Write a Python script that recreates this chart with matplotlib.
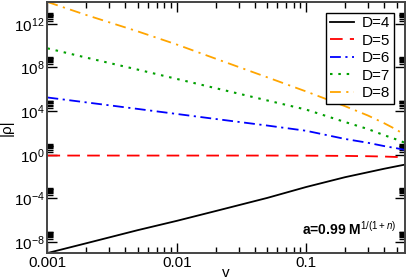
import numpy as np
import matplotlib
matplotlib.use("Agg")
import matplotlib.pyplot as plt
from matplotlib.ticker import LogLocator, FixedLocator, LogFormatterSciNotation, NullFormatter

plt.rcParams['font.family'] = ['Liberation Sans', 'DejaVu Sans']
plt.rcParams['mathtext.fontset'] = 'custom'
plt.rcParams['mathtext.rm'] = 'Liberation Sans'
plt.rcParams['mathtext.it'] = 'Liberation Sans:italic'
plt.rcParams['mathtext.bf'] = 'Liberation Sans:bold'

# velocities where the curves were read
v = [0.001, 0.002, 0.005, 0.01, 0.02, 0.05, 0.1, 0.2, 0.3, 0.4, 0.5, 0.58]

# log10 |rho|
log_d4 = [-9.0, -8.1, -6.9, -6.05, -5.15, -3.95, -2.95, -2.05, -1.6, -1.28, -1.05, -0.9]
log_d5 = [-0.07, -0.07, -0.07, -0.07, -0.07, -0.07, -0.08, -0.1, -0.13, -0.16, -0.2, -0.24]
log_d6 = [5.25, 4.8, 4.2, 3.74, 3.28, 2.68, 2.2, 1.45, 1.1, 0.8, 0.6, 0.45]
log_d7 = [9.75, 8.9, 7.8, 6.95, 6.1, 4.98, 4.14, 3.0, 2.36, 1.8, 1.4, 1.1]
log_d8 = [14.0, 12.8, 11.3, 10.1, 8.8, 7.1, 5.8, 4.45, 3.6, 2.9, 2.3, 1.8]

labels = ["D=4", "D=5", "D=6", "D=7", "D=8"]

fig = plt.figure(figsize=(4.09, 2.79), dpi=100)
ax = fig.add_axes([0.116, 0.093, 0.874, 0.9])

v = np.array(v)
ax.plot(v, 10**np.array(log_d4), color='black', lw=1.3, label=labels[0])
ax.plot(v, 10**np.array(log_d5), color='#ff0000', lw=1.3, dashes=(7, 4), label=labels[1])
ax.plot(v, 10**np.array(log_d6), color='#0000ff', lw=1.3, dashes=(6, 2.5, 1.2, 2.5), label=labels[2])
ax.plot(v, 10**np.array(log_d7), color='#00a000', lw=1.5, dashes=(1.2, 2.8), label=labels[3])
ax.plot(v, 10**np.array(log_d8), color='#ffa500', lw=1.3, dashes=(6, 3, 1.2, 3), label=labels[4])

ax.set_xscale('log')
ax.set_yscale('log')
ax.set_xlim(0.001, 0.58)
ax.set_ylim(1e-9, 1e14)

ymaj = [1e-8, 1e-4, 1e0, 1e4, 1e8, 1e12]
ax.yaxis.set_major_locator(FixedLocator(ymaj))
ax.yaxis.set_minor_locator(FixedLocator([m * y for y in ymaj for m in range(2, 10)]))
ax.yaxis.set_major_formatter(LogFormatterSciNotation())
ax.yaxis.set_minor_formatter(NullFormatter())
ax.xaxis.set_major_locator(FixedLocator([0.001, 0.01, 0.1]))
ax.xaxis.set_minor_locator(LogLocator(base=10, subs=np.arange(2, 10)))
ax.xaxis.set_minor_formatter(NullFormatter())
ax.set_xticklabels(["0.001", "0.01", "0.1"])

ax.tick_params(which='both', direction='in', top=True, right=True, labelsize=11, color='black')
ax.tick_params(which='major', length=7, width=1, pad=2)
ax.tick_params(which='minor', length=4, width=1)
for s in ax.spines.values():
    s.set_linewidth(1.4)
    s.set_color('#444444')

ax.set_xlabel("v", fontsize=11, labelpad=-3)
ax.set_ylabel("|ρ|", fontsize=11)
ax.yaxis.set_label_coords(-0.095, 0.5)

leg = ax.legend(loc='upper right', fontsize=11, frameon=True, fancybox=False,
                edgecolor='black', framealpha=1, handlelength=1.6, handletextpad=0.5,
                borderpad=0.25, labelspacing=0.22, borderaxespad=0.7)
leg.get_frame().set_linewidth(1.0)

ax.text(0.975, 0.06, r"a=0.99 M$^{1/(1+n)}$", transform=ax.transAxes, ha='right',
        va='bottom', fontsize=10, fontweight='bold')

fig.savefig("out.png", dpi=100)
